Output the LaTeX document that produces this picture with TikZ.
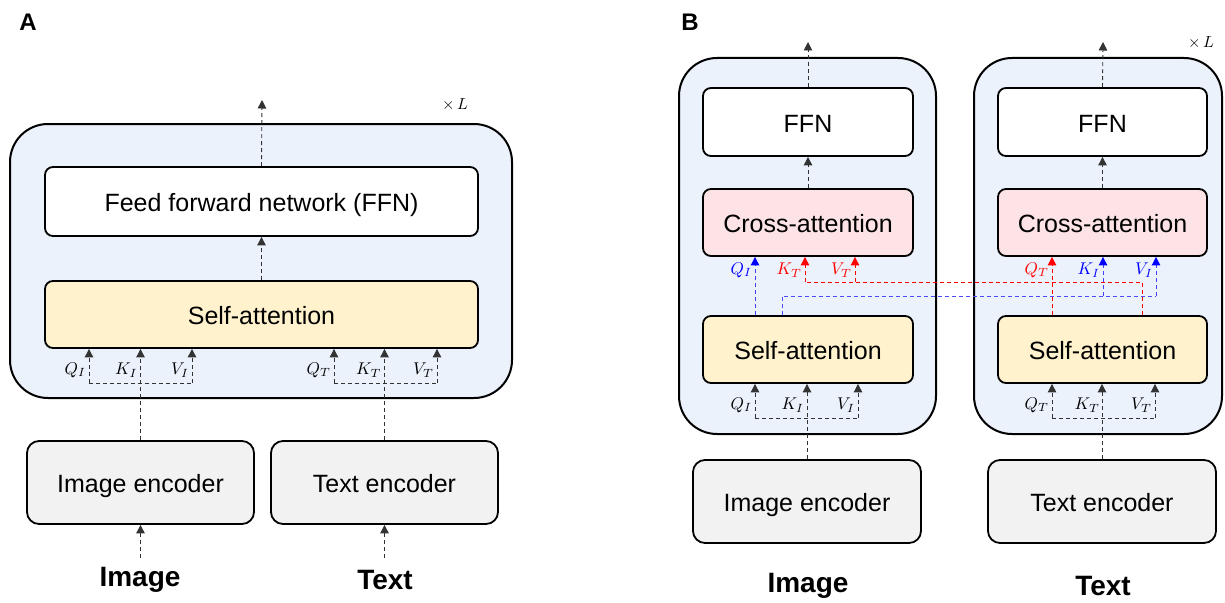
\documentclass[tikz,border=0pt]{standalone}
\usepackage{graphicx}
\usepackage{fontspec}
\setmainfont{Liberation Sans}
\usetikzlibrary{arrows.meta}
\definecolor{outerblue}{HTML}{EBF2FC}
\definecolor{saY}{HTML}{FFF2CC}
\definecolor{caP}{HTML}{FDE3E5}
\definecolor{encG}{HTML}{F2F2F2}
\definecolor{qblue}{HTML}{0000FF}
\definecolor{qred}{HTML}{FF0000}
\newcommand{\mlab}[1]{\scalebox{1.7}{$#1$}}
\newcommand{\mtimes}{\scalebox{1.6}{$\times\,L$}}
\begin{document}
\begin{tikzpicture}[x=1pt,y=-1pt,
  outer/.style={draw, line width=2pt, rounded corners=38pt, fill=outerblue, inner sep=0pt},
  blk/.style={draw, line width=1.8pt, rounded corners=8pt, inner sep=0pt, text height=20.5pt, text depth=0pt, font=\fontsize{25}{28}\selectfont},
  ffnbox/.style={blk, fill=white},
  sabox/.style={blk, fill=saY},
  cabox/.style={blk, fill=caP},
  encbox/.style={blk, fill=encG, rounded corners=12pt},
  dl/.style={dash pattern=on 4pt off 3pt, line width=0.9pt, draw=black!80},
  arr/.style={dl, -{Triangle[length=8.5pt,width=8.5pt]}},
  barr/.style={arr, draw=qblue!75, -{Triangle[length=8.5pt,width=8.5pt,color=qblue]}},
  rarr/.style={arr, draw=qred, -{Triangle[length=8.5pt,width=8.5pt,color=qred]}},
  lab/.style={anchor=east, inner sep=0pt},
  big/.style={font=\fontsize{28}{32}\selectfont\bfseries},
  panel/.style={font=\fontsize{24}{28}\selectfont\bfseries},
  times/.style={inner sep=0pt}
]
\useasboundingbox (0,0) rectangle (1225,602);

% ---------------- Panel A ----------------
\node[panel] (pA) at (28,22) {A};
\node[outer, minimum width=502pt, minimum height=274pt] (outerA) at (261,261) {};
\node[times] (xLA) at (455,105) {\mtimes};
\node[ffnbox, minimum width=433pt, minimum height=69pt] (ffnA) at (261.5,201.5) {Feed forward network (FFN)};
\node[sabox, minimum width=433pt, minimum height=67pt] (saA) at (261.5,314.5) {Self-attention};
\node[encbox, minimum width=227pt, minimum height=83pt] (imgA) at (140.5,482.5) {Image encoder};
\node[encbox, minimum width=227pt, minimum height=83pt] (txtA) at (384.5,482.5) {Text encoder};
\node[big] (imgLA) at (140,580) {Image};
\node[big] (txtLA) at (385,580) {Text};

\coordinate (outA) at (262,100);
\draw[arr] (ffnA.north) -- (outA);
\draw[arr] (saA.north) -- (ffnA.south);
\coordinate (inA1) at (140.5,558);
\coordinate (inA2) at (384.5,558);
\draw[arr] (inA1) -- (imgA.south);
\draw[arr] (inA2) -- (txtA.south);

% image q k v
\coordinate (qIA) at (89,383);
\coordinate (vIA) at (192,383);
\draw[dl] (qIA) -- (vIA);
\draw[arr] (qIA) -- (qIA |- saA.south);
\draw[arr] (vIA) -- (vIA |- saA.south);
\draw[arr] (imgA.north) -- (imgA.north |- saA.south);
\node[lab] (lqIA) at (86,370) {\mlab{Q_I}};
\node[lab] (lkIA) at (137.5,370) {\mlab{K_I}};
\node[lab] (lvIA) at (189,370) {\mlab{V_I}};
% text q k v
\coordinate (qTA) at (334,383);
\coordinate (vTA) at (437,383);
\draw[dl] (qTA) -- (vTA);
\draw[arr] (qTA) -- (qTA |- saA.south);
\draw[arr] (vTA) -- (vTA |- saA.south);
\draw[arr] (txtA.north) -- (txtA.north |- saA.south);
\node[lab] (lqTA) at (331,370) {\mlab{Q_T}};
\node[lab] (lkTA) at (381.5,370) {\mlab{K_T}};
\node[lab] (lvTA) at (434,370) {\mlab{V_T}};

% ---------------- Panel B ----------------
\node[panel] (pB) at (690,22) {B};
\node[outer, minimum width=257pt, minimum height=376pt] (outerBL) at (807.5,246) {};
\node[outer, minimum width=248pt, minimum height=376pt] (outerBR) at (1098,246) {};
\node[times] (xLB) at (1201,43) {\mtimes};

\node[ffnbox, minimum width=210pt, minimum height=68pt] (ffnBL) at (808,122) {FFN};
\node[cabox, minimum width=210pt, minimum height=67pt] (caBL) at (808,222.5) {Cross-attention};
\node[sabox, minimum width=210pt, minimum height=67pt] (saBL) at (808,349.5) {Self-attention};
\node[encbox, minimum width=228pt, minimum height=83pt] (imgB) at (807,501.5) {Image encoder};
\node[big] (imgLB) at (808,586) {Image};

\node[ffnbox, minimum width=209pt, minimum height=68pt] (ffnBR) at (1102.5,122) {FFN};
\node[cabox, minimum width=209pt, minimum height=67pt] (caBR) at (1102.5,222.5) {Cross-attention};
\node[sabox, minimum width=209pt, minimum height=67pt] (saBR) at (1102.5,349.5) {Self-attention};
\node[encbox, minimum width=228pt, minimum height=83pt] (txtB) at (1102,501.5) {Text encoder};
\node[big] (txtLB) at (1103,586) {Text};

\coordinate (outBL) at (808,42);
\coordinate (outBR) at (1103,42);
\draw[arr] (ffnBL.north) -- (outBL);
\draw[arr] (ffnBR.north) -- (outBR);
\draw[arr] (caBL.north) -- (ffnBL.south);
\draw[arr] (caBR.north) -- (ffnBR.south);

% bottom qkv left
\coordinate (qIB) at (755,418);
\coordinate (vIB) at (858,418);
\draw[dl] (qIB) -- (vIB);
\draw[arr] (qIB) -- (qIB |- saBL.south);
\draw[arr] (vIB) -- (vIB |- saBL.south);
\draw[arr] (imgB.north) -- (imgB.north |- saBL.south);
\node[lab] (lqIB) at (752,405) {\mlab{Q_I}};
\node[lab] (lkIB) at (804,405) {\mlab{K_I}};
\node[lab] (lvIB) at (855,405) {\mlab{V_I}};
% bottom qkv right
\coordinate (qTB) at (1052,418);
\coordinate (vTB) at (1155,418);
\draw[dl] (qTB) -- (vTB);
\draw[arr] (qTB) -- (qTB |- saBR.south);
\draw[arr] (vTB) -- (vTB |- saBR.south);
\draw[arr] (txtB.north) -- (txtB.north |- saBR.south);
\node[lab] (lqTB) at (1049,405) {\mlab{Q_T}};
\node[lab] (lkTB) at (1100,405) {\mlab{K_T}};
\node[lab] (lvTB) at (1152,405) {\mlab{V_T}};

% cross connections: blue (image -> text cross attention)
\coordinate (qIc) at (755,316);
\draw[barr] (qIc |- saBL.north) -- (qIc |- caBL.south);
\coordinate (bS) at (782,296);
\coordinate (bK) at (1103,296);
\coordinate (bV) at (1156,296);
\draw[dl, draw=qblue!70] (bS |- saBL.north) -- (bS) -- (bV);
\draw[barr] (bK) -- (bK |- caBR.south);
\draw[barr] (bV) -- (bV |- caBR.south);
\node[lab, text=qblue] (lqIc) at (752,270) {\mlab{Q_I}};
\node[lab, text=qblue] (lkIc) at (1100,270) {\mlab{K_I}};
\node[lab, text=qblue] (lvIc) at (1153,270) {\mlab{V_I}};

% red (text -> image cross attention)
\coordinate (qTc) at (1052,316);
\draw[rarr] (qTc |- saBR.north) -- (qTc |- caBR.south);
\coordinate (rK) at (805,282);
\coordinate (rV) at (855,282);
\coordinate (rS) at (1142,282);
\draw[dl, draw=qred] (rS |- saBR.north) -- (rS) -- (rK);
\draw[rarr] (rK) -- (rK |- caBL.south);
\draw[rarr] (rV) -- (rV |- caBL.south);
\node[lab, text=qred] (lkTc) at (802,270) {\mlab{K_T}};
\node[lab, text=qred] (lvTc) at (852,270) {\mlab{V_T}};
\node[lab, text=qred] (lqTc) at (1049,270) {\mlab{Q_T}};
\end{tikzpicture}
\end{document}
